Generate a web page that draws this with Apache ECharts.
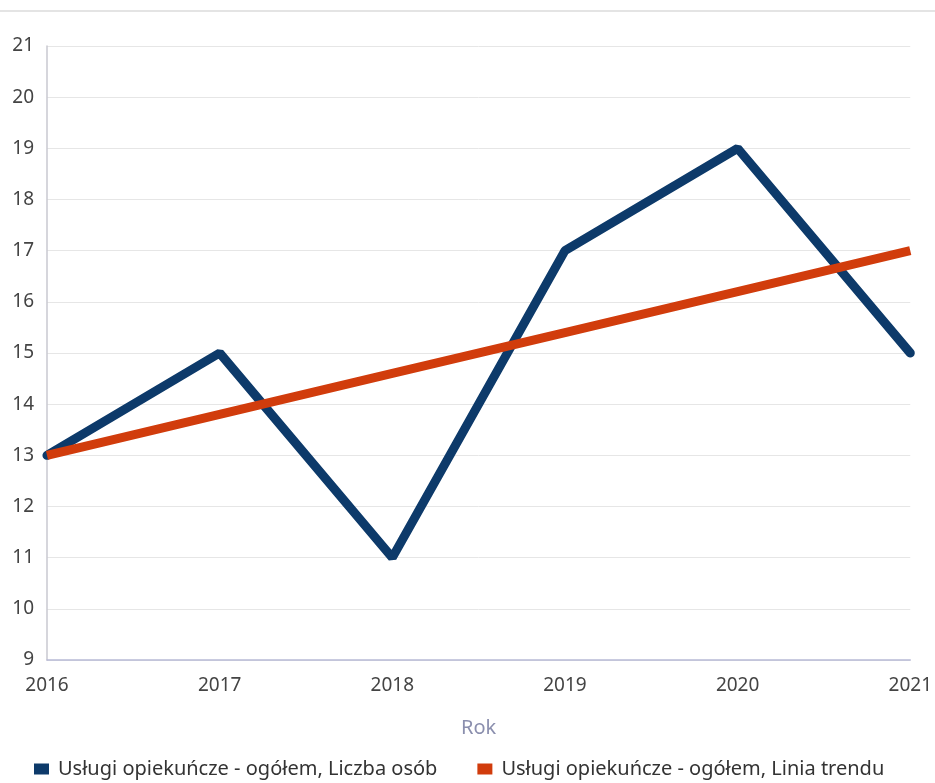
<!DOCTYPE html>
<html><head><meta charset="utf-8">
<script src="https://cdn.jsdelivr.net/npm/echarts@6/dist/echarts.min.js"></script>
<style>html,body{margin:0;padding:0;background:#fff}#c{width:935px;height:783px}</style>
</head><body><div id="c"></div>
<script>
const years = ['2016','2017','2018','2019','2020','2021'];
const liczbaOsob = [13, 15, 11, 17, 19, 15];
const liniaTrendu = [13, 13.8, 14.6, 15.4, 16.2, 17];
const seriesNames = ['Usługi opiekuńcze - ogółem, Liczba osób', 'Usługi opiekuńcze - ogółem, Linia trendu'];
const chart = echarts.init(document.getElementById('c'));
const font = 'Noto Sans';
chart.setOption({
  animation: false,
  textStyle: {fontFamily: font},
  graphic: [{type:'rect', shape:{x:0,y:10,width:935,height:2}, style:{fill:'#e4e4e4'}}],
  grid: {left: 47, right: 24, top: 46, bottom: 123},
  legend: {
    data: seriesNames, top: 754, left: 29, itemGap: 40,
    icon: 'rect', itemWidth: 15, itemHeight: 11,
    textStyle: {fontFamily: font, fontSize: 20, color: '#333', padding: [0, 0, 0, 4]}
  },
  xAxis: {
    type: 'category', data: years, boundaryGap: false,
    name: 'Rok', nameLocation: 'middle', nameGap: 58,
    nameTextStyle: {fontFamily: font, fontSize: 20, color: '#8b8fae'},
    axisLine: {lineStyle: {color: '#b8bad6', width: 1.5}},
    axisTick: {show: false},
    axisLabel: {fontFamily: font, fontSize: 19, color: '#444', margin: 16},
    splitLine: {show: false}
  },
  yAxis: {
    type: 'value', min: 9, max: 21, interval: 1,
    axisLine: {show: true, lineStyle: {color: '#c8c8d0', width: 1.5}},
    axisTick: {show: false},
    axisLabel: {fontFamily: font, fontSize: 19, color: '#444', margin: 13},
    splitLine: {lineStyle: {color: '#e6e6e6'}}
  },
  series: [
    {name: seriesNames[0], type: 'line', data: liczbaOsob, symbol: 'none',
     lineStyle: {color: '#0d3a6a', width: 9, cap: 'round'}, itemStyle: {color: '#0d3a6a'}},
    {name: seriesNames[1], type: 'line', data: liniaTrendu, symbol: 'none',
     lineStyle: {color: '#d13c0c', width: 9}, itemStyle: {color: '#d13c0c'}}
  ]
});
</script></body></html>
